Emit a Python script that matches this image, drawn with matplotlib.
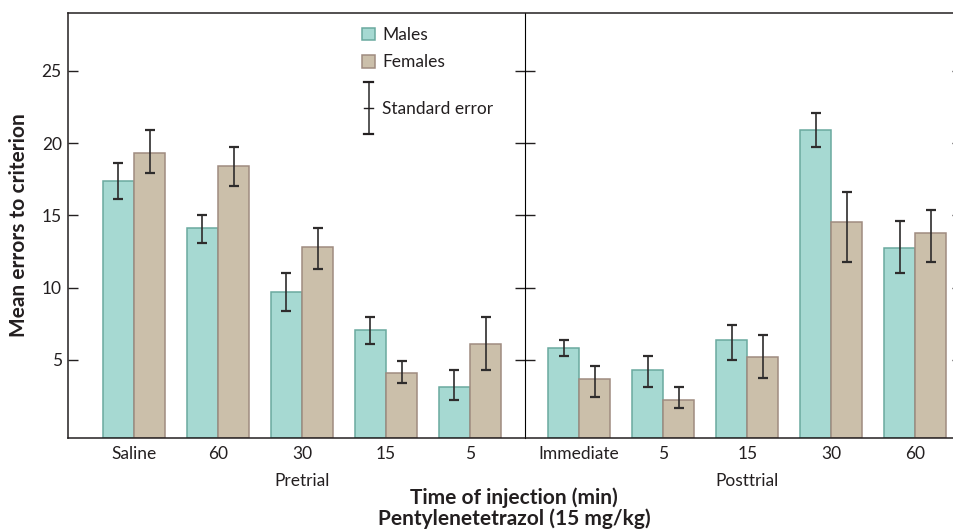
import numpy as np
import matplotlib
matplotlib.use("Agg")
import matplotlib.pyplot as plt
import matplotlib.transforms as mtrans
from matplotlib.patches import Patch
from matplotlib.lines import Line2D
from matplotlib.legend_handler import HandlerBase

# ---- data ----
categories = ["Saline", "60", "30", "15", "5", "Immediate", "5", "15", "30", "60"]
phase_labels = ["Pretrial", "Posttrial"]
males = [17.4, 14.1, 9.7, 7.1, 3.1, 5.85, 4.3, 6.4, 20.9, 12.75]
females = [19.3, 18.4, 12.8, 4.1, 6.1, 3.7, 2.2, 5.2, 14.55, 13.8]
males_hi = [18.6, 15.0, 11.0, 8.0, 4.3, 6.4, 5.3, 7.4, 22.1, 14.6]
males_lo = [16.1, 13.1, 8.4, 6.1, 2.2, 5.3, 3.1, 5.0, 19.7, 11.0]
females_hi = [20.9, 19.7, 14.1, 4.9, 8.0, 4.6, 3.1, 6.7, 16.6, 15.4]
females_lo = [17.9, 17.0, 11.3, 3.4, 4.3, 2.45, 1.7, 3.75, 11.8, 11.8]
yticks = [5, 10, 15, 20, 25]

# ---- style ----
plt.rcParams['font.family'] = ['Lato', 'DejaVu Sans']
ink = '#231f20'
m_face, m_edge = '#a6d9d2', '#6aa99f'
f_face, f_edge = '#cbbfaa', '#9f8b80'
fs = 12.5

fig = plt.figure(figsize=(9.54, 5.32), dpi=100)
W, H = 954, 532
ax_l, ax_r, ax_t, ax_b = 68, 962, 13, 438
ax = fig.add_axes([ax_l / W, 1 - ax_b / H, (ax_r - ax_l) / W, (ax_b - ax_t) / H])
fx = lambda px: (px - ax_l) / (ax_r - ax_l)
fy = lambda py: (ax_b - py) / (ax_b - ax_t)

gap = 0.3
pos = np.r_[np.arange(5), np.arange(5) + 5 + gap]
bw = 0.37
ybase = -0.4
ylim = (ybase, 29.0)

m = np.array(males); f = np.array(females)
ax.bar(pos - bw / 2, m - ybase, bw, bottom=ybase, color=m_face, edgecolor=m_edge, linewidth=1.1, zorder=2)
ax.bar(pos + bw / 2, f - ybase, bw, bottom=ybase, color=f_face, edgecolor=f_edge, linewidth=1.1, zorder=2)

m_err = [m - np.array(males_lo), np.array(males_hi) - m]
f_err = [f - np.array(females_lo), np.array(females_hi) - f]
ek = dict(fmt='none', ecolor='#2e2c2c', elinewidth=1.2, capsize=3.4, capthick=1.6, zorder=3)
ax.errorbar(pos - bw / 2, m, yerr=m_err, **ek)
ax.errorbar(pos + bw / 2, f, yerr=f_err, **ek)

xmin = -0.786
xmax = xmin + (ax_r - ax_l) / 84.0
ax.set_xlim(xmin, xmax)
ax.set_ylim(*ylim)

ax.set_xticks(pos)
ax.set_xticklabels(categories, fontsize=fs, color=ink)
ax.tick_params(axis='x', length=0, pad=6)
ax.set_yticks(yticks)
ax.set_yticklabels([str(t) for t in yticks], fontsize=fs, color=ink)
ax.tick_params(axis='y', direction='in', length=7.2, width=1.0, color=ink, pad=4.5,
               right=True)
for s in ['left', 'bottom', 'top', 'right']:
    ax.spines[s].set_color(ink)
    ax.spines[s].set_linewidth(1.1)

# central divider with ticks crossing both sides
div = (pos[4] + pos[5]) / 2
div_ax = (div - xmin) / (xmax - xmin)
sec = ax.secondary_yaxis(div_ax)
sec.set_yticks(yticks)
sec.set_yticklabels([])
sec.tick_params(direction='inout', length=14, width=1.0, color=ink)
sec.spines['left'].set_color(ink)
sec.spines['left'].set_linewidth(1.1)

# labels
ax.set_ylabel("Mean errors to criterion", fontsize=15, fontweight='bold', color=ink)
ax.yaxis.set_label_coords(fx(29), 0.5)
ax.set_xlabel("Time of injection (min)\nPentylenetetrazol (15 mg/kg)", fontsize=15,
              fontweight='bold', color=ink, linespacing=1.05)
ax.xaxis.set_label_coords(fx(514), fy(487))

bt = mtrans.blended_transform_factory(ax.transData, ax.transAxes)
for lab, idx in zip(phase_labels, [2, 7]):
    ax.text(pos[idx], fy(481), lab, transform=bt, ha='center',
            va='center', fontsize=fs, color=ink)

# legends
h1 = [Patch(facecolor=m_face, edgecolor=m_edge, linewidth=1.1),
      Patch(facecolor=f_face, edgecolor=f_edge, linewidth=1.1)]
leg1 = ax.legend(h1, ["Males", "Females"], loc='upper left',
                 bbox_to_anchor=(fx(362), fy(27)),
                 frameon=False, fontsize=fs, handlelength=0.75, handleheight=0.75,
                 handletextpad=0.42, labelspacing=0.65, borderpad=0, borderaxespad=0,
                 labelcolor=ink)
ax.add_artist(leg1)


class SEHandler(HandlerBase):
    def create_artists(self, legend, orig_handle, xdescent, ydescent, width, height,
                       fontsize, trans):
        cx = width / 2 - xdescent
        cy = height / 2 - ydescent
        L = 18.5
        c = 3.2
        arts = [Line2D([cx, cx], [cy - L, cy + L], color='#3a3a3a', lw=1.2),
                Line2D([cx - c, cx + c], [cy - L, cy - L], color=ink, lw=1.6),
                Line2D([cx - c, cx + c], [cy + L, cy + L], color=ink, lw=1.6),
                Line2D([cx - c, cx + c], [cy, cy], color=ink, lw=1.0)]
        for a in arts:
            a.set_transform(trans)
        return arts


se_handle = Line2D([], [])
leg2 = ax.legend([se_handle], ["Standard error"], handler_map={Line2D: SEHandler()},
                 loc='center left',
                 bbox_to_anchor=(fx(362), fy(109)),
                 frameon=False, fontsize=fs, handlelength=0.75, handletextpad=0.42,
                 borderpad=0, borderaxespad=0, labelcolor=ink)

fig.savefig("out.png", dpi=100)
